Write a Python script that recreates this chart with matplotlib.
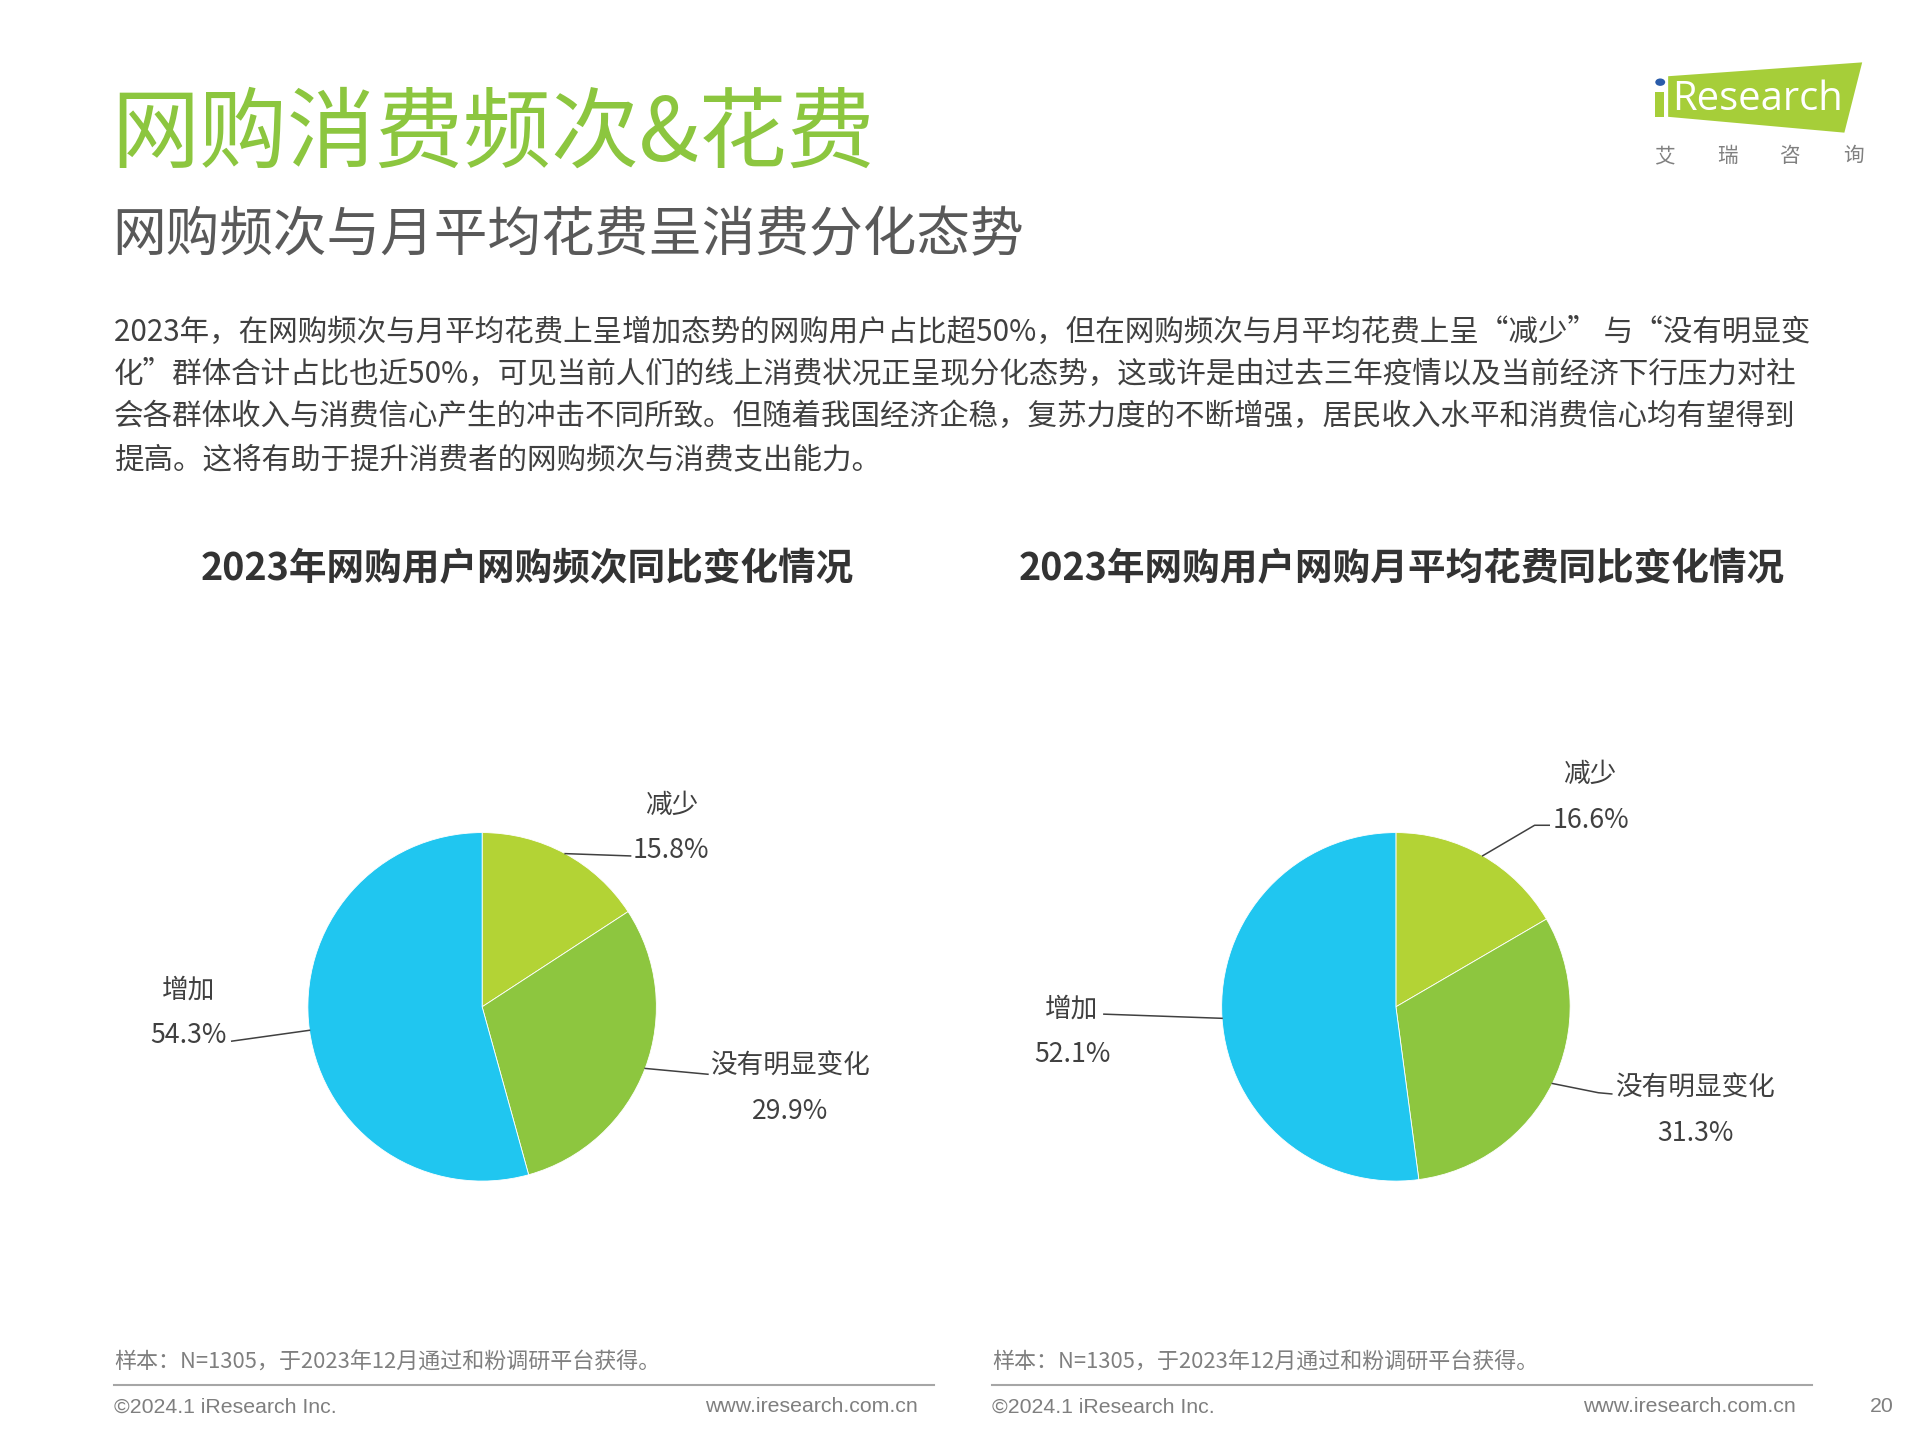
import matplotlib
matplotlib.use('Agg')
import matplotlib.pyplot as plt
from matplotlib.patches import Polygon, Rectangle, Circle
import numpy as np

plt.rcParams['font.family'] = ['Noto Sans CJK SC', 'DejaVu Sans']

W, H = 1920, 1440
S = 0.99  # global layout scale
TY = 3    # vertical text offset (px)

# ---------------- data ----------------
categories = ['减少', '没有明显变化', '增加']
freq_values = [15.8, 29.9, 54.3]
spend_values = [16.6, 31.3, 52.1]
colors = ['#B3D335', '#8DC63F', '#20C6F0']

title = '网购消费频次&花费'
subtitle = '网购频次与月平均花费呈消费分化态势'
paragraph = [
    '2023年，在网购频次与月平均花费上呈增加态势的网购用户占比超50%，但在网购频次与月平均花费上呈“减少” 与“没有明显变',
    '化”群体合计占比也近50%，可见当前人们的线上消费状况正呈现分化态势，这或许是由过去三年疫情以及当前经济下行压力对社',
    '会各群体收入与消费信心产生的冲击不同所致。但随着我国经济企稳，复苏力度的不断增强，居民收入水平和消费信心均有望得到',
    '提高。这将有助于提升消费者的网购频次与消费支出能力。',
]
chart_titles = ['2023年网购用户网购频次同比变化情况', '2023年网购用户网购月平均花费同比变化情况']
note = '样本：N=1305，于2023年12月通过和粉调研平台获得。'
copyright_text = '©2024.1 iResearch Inc.'
website = 'www.iresearch.com.cn'
page_no = '20'
logo_en = 'Research'
logo_cn = ['艾', '瑞', '咨', '询']

# ---------------- layout ----------------
left_layout = [
    dict(line=[(0.852, 0.866)], name=(1.085, 1.176), pct=(1.085, 0.915)),
    dict(line=[(1.296, -0.387)], name=(1.768, -0.324), pct=(1.768, -0.585)),
    dict(line=[(-1.437, -0.197)], name=(-1.683, 0.113), pct=(-1.683, -0.148)),
]
right_layout = [
    dict(line=[(0.796, 1.042), (0.880, 1.042)], name=(1.113, 1.352), pct=(1.120, 1.085)),
    dict(line=[(1.162, -0.493), (1.239, -0.500)], name=(1.718, -0.451), pct=(1.718, -0.711)),
    dict(line=[(-1.676, -0.042)], name=(-1.859, 0.007), pct=(-1.859, -0.254)),
]

fig = plt.figure(figsize=(19.2, 14.4), dpi=100)
fig.patch.set_facecolor('white')


def fx(x):
    return x * S / W


def fy(y):
    return 1 - y * S / H


def ty(y):
    return fy(y + TY)


def fs(size):
    return size * S


# Title block
fig.text(fx(112), ty(134), title, fontsize=fs(64), color='#8CC63F', ha='left', va='center')
fig.text(fx(113), ty(235), subtitle, fontsize=fs(39), color='#595959', ha='left', va='center')

para_y = [333, 375, 418, 461]
for line, y in zip(paragraph, para_y):
    fig.text(fx(115), ty(y), line, fontsize=fs(21.5), color='#404040', ha='left', va='center')

# Chart titles
fig.text(fx(533), ty(571), chart_titles[0], fontsize=fs(27.4), fontweight='bold', color='#333333',
         ha='center', va='center')
fig.text(fx(1416), ty(571), chart_titles[1], fontsize=fs(27.4), fontweight='bold', color='#333333',
         ha='center', va='center')


def draw_pie(cx, cy, r, values, layout):
    span = 2.0
    ax = fig.add_axes([fx(cx - span * r), fy(cy + span * r), 2 * span * r * S / W, 2 * span * r * S / H])
    wedges, _ = ax.pie(values, colors=colors, startangle=90, counterclock=False, radius=1,
                       wedgeprops=dict(edgecolor='white', linewidth=0.6))
    ax.set_xlim(-span, span)
    ax.set_ylim(-span, span)
    ax.set_aspect('equal')
    ax.axis('off')
    dy = TY / r  # text offset in data units
    for w, cat, val, lay in zip(wedges, categories, values, layout):
        mid = np.deg2rad((w.theta1 + w.theta2) / 2)
        pts = [(np.cos(mid), np.sin(mid))] + lay['line']
        xs = [p[0] for p in pts]
        ys = [p[1] for p in pts]
        ax.plot(xs, ys, color='#404040', linewidth=1.1, clip_on=False)
        ax.text(lay['name'][0], lay['name'][1] - dy, cat, fontsize=fs(19.4), color='#404040',
                ha='center', va='center')
        ax.text(lay['pct'][0], lay['pct'][1] - dy, f'{val:.1f}%', fontsize=fs(19.4), color='#404040',
                ha='center', va='center')


draw_pie(487, 1017, 176, freq_values, left_layout)
draw_pie(1410, 1017, 176, spend_values, right_layout)

# Footer
foot_color = '#7F7F7F'
latin = ['Liberation Sans Narrow', 'Liberation Sans', 'DejaVu Sans']
for x0, x1 in [(115, 943), (1002, 1830)]:
    fig.text(fx(x0), ty(1373), note, fontsize=fs(16), color=foot_color, ha='left', va='center')
    fig.add_artist(plt.Line2D([fx(x0), fx(x1)], [fy(1399), fy(1399)], color='#A6A6A6',
                              linewidth=1.5, transform=fig.transFigure))
    fig.text(fx(x0), ty(1418), copyright_text, fontsize=fs(15.5), color=foot_color, ha='left',
             va='center', family=latin)
    fig.text(fx(x1 - 16), ty(1418), website, fontsize=fs(15.5), color=foot_color, ha='right',
             va='center', family=latin)
fig.text(fx(1913), ty(1418), page_no, fontsize=fs(15.5), color=foot_color, ha='right', va='center',
         family=latin)

# Logo
logo_green = '#A6CE39'
poly = Polygon([(fx(1685), fy(77)), (fx(1881), fy(63)), (fx(1863), fy(134)), (fx(1685), fy(118))],
               closed=True, facecolor=logo_green, edgecolor='none', transform=fig.transFigure)
fig.add_artist(poly)
fig.add_artist(Rectangle((fx(1672), fy(118)), 9 * S / W, 25 * S / H, facecolor=logo_green,
                         edgecolor='none', transform=fig.transFigure))
fig.add_artist(Circle((fx(1677), fy(83)), 5 * S / W, facecolor='#2A5CAA', edgecolor='none',
                      transform=fig.transFigure))
fig.text(fx(1689), fy(101), logo_en, fontsize=fs(29), color='white', ha='left', va='center',
         family=['Open Sans', 'DejaVu Sans'])
for ch, x in zip(logo_cn, [1682, 1745, 1808, 1872]):
    fig.text(fx(x), ty(155), ch, fontsize=fs(15), color='#808080', ha='center', va='center')

fig.savefig('out.png', dpi=100, facecolor='white')
